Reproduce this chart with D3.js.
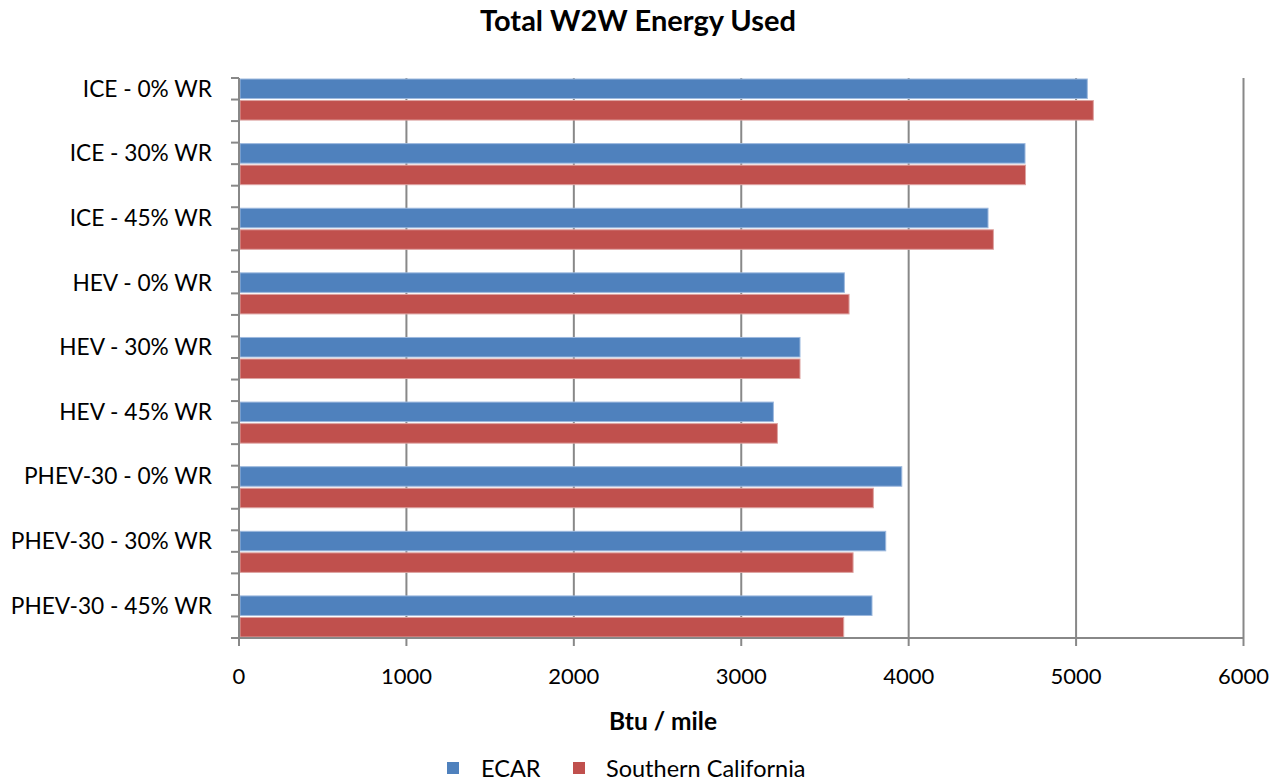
<!DOCTYPE html>
<html>
<head>
<meta charset="utf-8">
<script src="https://cdn.jsdelivr.net/npm/d3@7"></script>
<style>
  html, body { margin: 0; padding: 0; background: #fff; }
  svg { display: block; font-family: Lato, "Open Sans", sans-serif; }
</style>
</head>
<body>
<svg id="chart" width="1286" height="782"></svg>
<script>
const categories = [
  "ICE - 0% WR", "ICE - 30% WR", "ICE - 45% WR",
  "HEV - 0% WR", "HEV - 30% WR", "HEV - 45% WR",
  "PHEV-30 - 0% WR", "PHEV-30 - 30% WR", "PHEV-30 - 45% WR"
];
const seriesNames = ["ECAR", "Southern California"];
const ecarValues = [5067, 4695, 4474, 3616, 3351, 3192, 3959, 3863, 3781];
const socalValues = [5103, 4698, 4506, 3644, 3351, 3216, 3789, 3668, 3612];
const xTicks = [0, 1000, 2000, 3000, 4000, 5000, 6000];
const colors = ["#4F81BD", "#C0504D"];
const strokeColors = ["#9DB9DE", "#DDA3A1"];
const titleText = "Total W2W Energy Used";
const xTitle = "Btu / mile";

const svg = d3.select("#chart");
const plot = { left: 239, right: 1243.5, top: 78, bottom: 638 };
const rowsTotal = 26; // 9 groups of (ECAR, SoCal, gap), minus trailing gap
const rowH = (plot.bottom - plot.top) / rowsTotal;

const x = d3.scaleLinear().domain([0, 6000]).range([plot.left, plot.right]);
const y = d3.scaleBand().domain(categories)
  .range([plot.top, plot.top + categories.length * 3 * rowH])
  .paddingInner(0).paddingOuter(0);
const ySub = d3.scaleBand().domain([...seriesNames, "_gap"]).range([0, y.step()]);
const rowScale = d3.scaleLinear().domain([0, rowsTotal]).range([plot.top, plot.bottom]);

const grid = "#888888";

// gridlines (behind bars)
svg.append("g").selectAll("line").data(xTicks.filter(d => d > 0)).join("line")
  .attr("x1", d => x(d)).attr("x2", d => x(d))
  .attr("y1", plot.top).attr("y2", plot.bottom)
  .attr("stroke", grid).attr("stroke-width", 2);

// bars
const data = [];
categories.forEach((c, i) => {
  data.push({ cat: c, s: 0, v: ecarValues[i] });
  data.push({ cat: c, s: 1, v: socalValues[i] });
});
svg.append("g").selectAll("rect").data(data).join("rect")
  .attr("x", x(0) + 1)
  .attr("y", d => y(d.cat) + ySub(seriesNames[d.s]) + 1)
  .attr("width", d => x(d.v) - x(0) - 1)
  .attr("height", ySub.bandwidth() - 2)
  .attr("fill", d => colors[d.s])
  .attr("stroke", d => strokeColors[d.s])
  .attr("stroke-width", 1);

// left axis line & ticks
svg.append("line")
  .attr("x1", plot.left).attr("x2", plot.left)
  .attr("y1", plot.top).attr("y2", plot.bottom + 8)
  .attr("stroke", grid).attr("stroke-width", 2);
svg.append("g").selectAll("line").data(d3.range(rowsTotal + 1)).join("line")
  .attr("x1", plot.left - 8).attr("x2", plot.left)
  .attr("y1", d => rowScale(d)).attr("y2", d => rowScale(d))
  .attr("stroke", grid).attr("stroke-width", 2);

// bottom axis line & ticks
svg.append("line")
  .attr("x1", plot.left).attr("x2", plot.right)
  .attr("y1", plot.bottom).attr("y2", plot.bottom)
  .attr("stroke", grid).attr("stroke-width", 2);
svg.append("g").selectAll("line").data(xTicks).join("line")
  .attr("x1", d => x(d)).attr("x2", d => x(d))
  .attr("y1", plot.bottom).attr("y2", plot.bottom + 8)
  .attr("stroke", grid).attr("stroke-width", 2);

// x tick labels
svg.append("g").selectAll("text").data(xTicks).join("text")
  .attr("x", d => x(d)).attr("y", 684)
  .attr("text-anchor", "middle")
  .attr("font-size", 22).attr("fill", "#000")
  .text(d => d);

// category labels
svg.append("g").selectAll("text").data(categories).join("text")
  .attr("x", 212)
  .attr("y", d => y(d) + ySub("ECAR") + ySub.bandwidth() / 2)
  .attr("dy", "0.35em")
  .attr("text-anchor", "end")
  .attr("font-size", 22.7).attr("fill", "#000")
  .text(d => d);

// title
svg.append("text").attr("x", 638).attr("y", 31)
  .attr("text-anchor", "middle").attr("font-weight", "bold")
  .attr("font-size", 29).attr("fill", "#000").text(titleText);

// x axis title
svg.append("text").attr("x", 663).attr("y", 730)
  .attr("text-anchor", "middle").attr("font-weight", "bold")
  .attr("font-size", 24.5).attr("fill", "#000").text(xTitle);

// legend
const legendItems = [
  { name: seriesNames[0], color: colors[0], sx: 447, tx: 481 },
  { name: seriesNames[1], color: colors[1], sx: 573, tx: 606 }
];
const lg = svg.append("g").selectAll("g").data(legendItems).join("g");
lg.append("rect").attr("x", d => d.sx).attr("y", 762)
  .attr("width", 12).attr("height", 12).attr("fill", d => d.color);
lg.append("text").attr("x", d => d.tx).attr("y", 777)
  .attr("font-size", 23.5).attr("fill", "#000").text(d => d.name);
</script>
</body>
</html>
